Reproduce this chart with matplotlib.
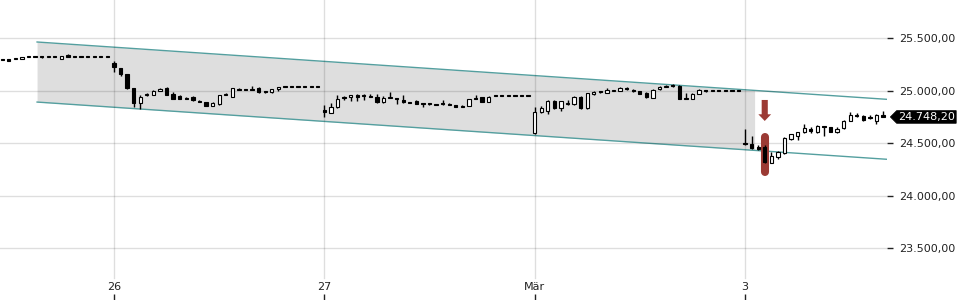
"""
plot.py
Intraday candlestick chart with trend channel and signal marker.
"""
import matplotlib
matplotlib.use('Agg')
matplotlib.rcParams.update({
    'font.family': 'DejaVu Sans',
    'font.size': 8,
})

import matplotlib.pyplot as plt
from matplotlib.path import Path
from matplotlib.ticker import FuncFormatter
import numpy as np

# ── OHLC data (one candle per slot, index based x axis) ─────
OPEN = [
    25290, 25297, 25300, 25300, 25320, 25322, 25329, 25320, 25322, 25303,
    25335, 25320, 25320, 25320, 25320, 25320, 25320,
    # 26
    25265, 25211, 25157, 25021, 24878, 24955, 24957, 25000, 25027, 24964,
    24950, 24921, 24935, 24897, 24893, 24855, 24869, 24962, 24941, 25012,
    25012, 25006, 25021, 24990, 24983, 25010, 25033, 25033, 25033, 25033,
    25033, 25033,
    # 27
    24810, 24790, 24840, 24935, 24935, 24957, 24950, 24950, 24935, 24888,
    24926, 24925, 24910, 24888, 24903, 24878, 24872, 24870, 24870, 24870,
    24862, 24850, 24852, 24930, 24935, 24888, 24950, 24950, 24950, 24950,
    24950, 24950,
    # Mär
    24595, 24793, 24808, 24900, 24830, 24875, 24868, 24941, 24830, 24965,
    24988, 24980, 24998, 24998, 25018, 25005, 24995, 24980, 24926, 25010,
    25035, 25048, 25043, 24930, 24919, 24967, 25000, 24993, 24993, 24993,
    24993, 24993,
    # 3
    24500, 24490, 24460, 24465, 24312, 24370, 24402, 24535, 24570, 24602,
    24635, 24608, 24655, 24650, 24602, 24640, 24712, 24770, 24757, 24740,
    24710, 24767,
]
HIGH = [
    25292, 25300, 25310, 25318, 25330, 25326, 25332, 25330, 25330, 25330,
    25345, 25320, 25320, 25320, 25320, 25320, 25320,
    25285, 25215, 25160, 25025, 24957, 24975, 25005, 25025, 25030, 24983,
    24957, 24938, 24950, 24905, 24895, 24886, 24960, 24975, 25025, 25027,
    25015, 25045, 25030, 24993, 25016, 25035, 25033, 25033, 25033, 25033,
    25033, 25033,
    24862, 24884, 24957, 24952, 24962, 24965, 24965, 24965, 24967, 24945,
    24990, 24927, 24955, 24892, 24905, 24880, 24878, 24876, 24910, 24880,
    24864, 24862, 24921, 24957, 24940, 24945, 24950, 24950, 24950, 24950,
    24950, 24950,
    24840, 24852, 24910, 24905, 24903, 24905, 24950, 24945, 24976, 24995,
    24992, 25020, 25008, 25030, 25030, 25015, 24998, 24983, 25010, 25045,
    25055, 25065, 25048, 24975, 24975, 25015, 25003, 24993, 24993, 24993,
    24993, 24993,
    24630, 24570, 24477, 24480, 24417, 24420, 24555, 24590, 24605, 24680,
    24650, 24675, 24657, 24655, 24655, 24715, 24795, 24790, 24767, 24770,
    24775, 24805,
]
LOW = [
    25288, 25282, 25298, 25298, 25318, 25318, 25314, 25318, 25318, 25300,
    25315, 25320, 25320, 25320, 25320, 25320, 25320,
    25180, 25141, 25015, 24846, 24824, 24950, 24955, 24995, 24955, 24917,
    24918, 24918, 24903, 24890, 24853, 24852, 24866, 24955, 24938, 25003,
    25006, 25003, 24981, 24981, 24980, 24995, 25033, 25033, 25033, 25033,
    25033, 25033,
    24750, 24783, 24835, 24905, 24903, 24903, 24910, 24935, 24885, 24885,
    24924, 24871, 24885, 24877, 24870, 24845, 24862, 24862, 24866, 24858,
    24843, 24843, 24850, 24918, 24886, 24886, 24950, 24950, 24950, 24950,
    24950, 24950,
    24583, 24790, 24776, 24828, 24805, 24865, 24865, 24828, 24828, 24962,
    24980, 24978, 24992, 24996, 25005, 24990, 24963, 24933, 24924, 25008,
    25033, 25038, 24918, 24915, 24917, 24965, 24988, 24993, 24993, 24993,
    24993, 24993,
    24485, 24445, 24433, 24305, 24308, 24348, 24395, 24530, 24530, 24598,
    24600, 24600, 24570, 24605, 24598, 24635, 24708, 24745, 24710, 24732,
    24680, 24745,
]
CLOSE = [
    25290, 25284, 25302, 25316, 25322, 25320, 25316, 25322, 25320, 25329,
    25320, 25320, 25320, 25320, 25320, 25320, 25320,
    25220, 25154, 25021, 24884, 24941, 24965, 24998, 25010, 24957, 24919,
    24920, 24920, 24905, 24893, 24855, 24884, 24957, 24967, 25021, 25005,
    25008, 25005, 24983, 24983, 25014, 25030, 25033, 25033, 25033, 25033,
    25033, 25033,
    24800, 24840, 24916, 24930, 24957, 24935, 24945, 24938, 24888, 24926,
    24928, 24918, 24888, 24883, 24872, 24876, 24868, 24866, 24868, 24860,
    24845, 24845, 24919, 24920, 24888, 24941, 24950, 24950, 24950, 24950,
    24950, 24950,
    24800, 24830, 24903, 24830, 24900, 24885, 24941, 24830, 24973, 24990,
    24983, 25005, 25002, 25025, 25012, 24995, 24965, 24935, 25005, 25036,
    25037, 25040, 24920, 24920, 24967, 25005, 24993, 24993, 24993, 24993,
    24993, 24993,
    24492, 24450, 24443, 24322, 24379, 24412, 24545, 24586, 24602, 24640,
    24610, 24665, 24650, 24608, 24635, 24710, 24767, 24760, 24719, 24735,
    24770, 24748.2,
]

DAY_TICKS  = [17, 49, 81, 113]
DAY_LABELS = ['26', '27', 'Mär', '3']
PRICE_TICKS = [23500, 24000, 24500, 25000, 25500]
LAST_PRICE = 24748.20

# trend channel: anchor points (index, upper, lower), fill ends at FILL_END
CH_X     = [5.3, 134.6]
CH_UPPER = [25462, 24916]
CH_LOWER = [24890, 24345]
FILL_END = 115.0

# signal marker
SIG_IDX   = 116
SIG_BAR   = (24554, 24227)
SIG_ARROW = (24910, 24710)

RED  = '#9b3a34'
TEAL = '#549f9f'


def de_fmt(v, _pos=None):
    s = f'{v:,.2f}'
    return s.replace(',', 'X').replace('.', ',').replace('X', '.')


def price_tag(x0, y0, width, height, mutation_size, pad=0.12):
    p = mutation_size * pad
    x0, y0 = x0 - p, y0 - p
    x1, y1 = x0 + width + 2 * p, y0 + height + 2 * p
    tip = (y1 - y0) / 2
    return Path([(x0, y0), (x1, y0), (x1, y1), (x0, y1),
                 (x0 - tip, (y0 + y1) / 2), (x0, y0)], closed=True)


fig = plt.figure(figsize=(9.6, 3.0), dpi=100)
ax = fig.add_axes([0, 0, 887 / 960, 1])

idx = np.arange(len(CLOSE))
o = np.array(OPEN, float)
h = np.array(HIGH, float)
l = np.array(LOW, float)
c = np.array(CLOSE, float)

# ── channel ────────────────────────────────────────────────
xs = np.linspace(CH_X[0], CH_X[1], 200)
up = np.interp(xs, CH_X, CH_UPPER)
lo = np.interp(xs, CH_X, CH_LOWER)
m = xs <= FILL_END
ax.fill_between(xs[m], lo[m], up[m], color='#dedede', lw=0, zorder=1)
ax.plot(CH_X, CH_UPPER, color=TEAL, lw=1.0, zorder=2)
ax.plot(CH_X, CH_LOWER, color=TEAL, lw=1.0, zorder=2)

# ── grid ───────────────────────────────────────────────────
for p in PRICE_TICKS:
    ax.axhline(p, color='black', alpha=0.13, lw=1.0, zorder=2.5)
for d in DAY_TICKS:
    ax.axvline(d, ymin=0.075, ymax=1, color='black', alpha=0.13, lw=1.0,
               zorder=2.5)

# ── signal marker (behind candle) ──────────────────────────
ax.plot([SIG_IDX, SIG_IDX], SIG_BAR, color=RED, lw=5.8,
        solid_capstyle='round', zorder=2.8)
ax.annotate('', xy=(SIG_IDX, SIG_ARROW[1]), xytext=(SIG_IDX, SIG_ARROW[0]),
            arrowprops=dict(arrowstyle='simple,head_width=1.15,'
                            'head_length=0.6,tail_width=0.55',
                            color=RED, shrinkA=0, shrinkB=0, lw=0),
            zorder=5)

# ── candles ────────────────────────────────────────────────
down = c < o
flat = c == o
bottom = np.minimum(o, c)
height = np.maximum(np.abs(c - o), 9)
face = np.where(down | flat, 'black', 'white')
ax.vlines(idx, l, h, color='black', lw=1.0, zorder=3)
ax.bar(idx, height, 0.5, bottom=bottom, color=face, edgecolor='black',
       linewidth=0.8, zorder=4)

# ── axes ───────────────────────────────────────────────────
ax.set_xlim(-0.34, 134.6)
ax.set_ylim(23005, 25862)
for s in ax.spines.values():
    s.set_visible(False)

ax.yaxis.tick_right()
ax.set_yticks(PRICE_TICKS)
ax.yaxis.set_major_formatter(FuncFormatter(de_fmt))
ax.tick_params(axis='y', direction='out', length=4, width=1, pad=5,
               labelsize=8, colors='#222222')

ax.set_xticks(DAY_TICKS)
ax.set_xticklabels(DAY_LABELS)
ax.tick_params(axis='x', direction='in', length=4, width=1, pad=-13,
               labelsize=8, colors='#222222')

# last price tag
ax.annotate(de_fmt(LAST_PRICE), xy=(1, LAST_PRICE),
            xycoords=('axes fraction', 'data'),
            xytext=(11, 0), textcoords='offset pixels',
            ha='left', va='center', color='white', fontsize=8,
            bbox=dict(boxstyle=price_tag, fc='black', ec='black', lw=0.5),
            annotation_clip=False, zorder=6)

fig.savefig('out.png', dpi=100)
plt.close()
